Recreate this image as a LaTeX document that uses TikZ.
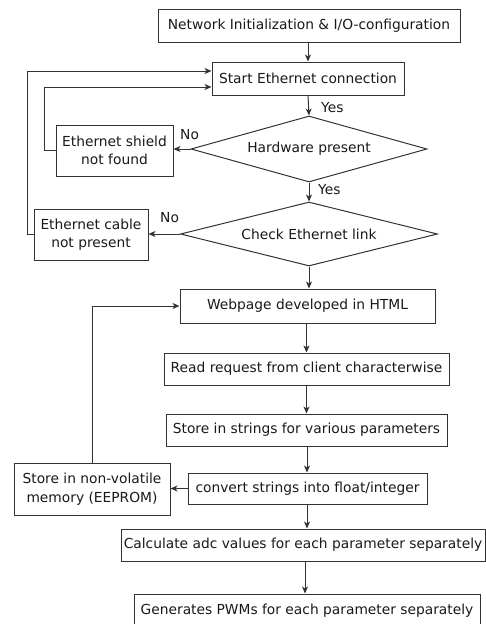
\documentclass[tikz,border=0pt]{standalone}
\usepackage{fontspec}
\setmainfont{DejaVu Sans}
\usetikzlibrary{shapes.geometric,arrows.meta,calc}
\begin{document}
\begin{tikzpicture}[x=1pt,y=-1pt,
  every node/.style={font=\fontsize{13.8}{18.5}\selectfont, text=black!90},
  box/.style={draw=black!80, line width=1pt, inner sep=0pt, align=center},
  dec/.style={draw=black!80, line width=1pt, inner sep=0pt, diamond, aspect=3.6, align=center},
  arr/.style={draw=black!80, line width=1pt, -{Stealth[length=7pt,width=6pt,inset=2pt]}},
  lbl/.style={inner sep=0pt, anchor=west}
]
\useasboundingbox (0,0) rectangle (486,624);
\clip (0,0) rectangle (486,624);
\node[box, minimum width=302pt, minimum height=33pt] (b1) at (309,25.5) {Network Initialization \& I/O-configuration};
\node[box, minimum width=192pt, minimum height=33pt] (b2) at (308,78.5) {Start Ethernet connection};
\node[dec, minimum width=236pt, minimum height=66pt] (d1) at (309,149) {Hardware present};
\node[box, minimum width=117pt, minimum height=51pt] (shield) at (114.5,150.5) {Ethernet shield\\not found};
\node[dec, minimum width=257pt, minimum height=64pt] (d2) at (309,234) {Check Ethernet link};
\node[box, minimum width=114pt, minimum height=51pt] (cable) at (91,234.5) {Ethernet cable\\not present};
\node[box, minimum width=255pt, minimum height=34pt] (web) at (307.5,306) {Webpage developed in HTML};
\node[box, minimum width=285pt, minimum height=32pt] (read) at (306.5,369) {Read request from client characterwise};
\node[box, minimum width=281pt, minimum height=32pt] (str) at (306.5,430) {Store in strings for various parameters};
\node[box, minimum width=156pt, minimum height=52pt] (eep) at (92,489) {Store in non-volatile\\memory (EEPROM)};
\node[box, minimum width=239pt, minimum height=31pt] (conv) at (307.5,488.5) {convert strings into float/integer};
\node[box, minimum width=364pt, minimum height=32pt] (calc) at (303,545) {Calculate adc values for each parameter separately};
\node[box, minimum width=346pt, minimum height=34pt] (gen) at (307,611) {Generates PWMs for each parameter separately};

\node[lbl] (y1) at (321,108) {Yes};
\node[lbl] (y2) at (318,189.5) {Yes};
\node[lbl] (n1) at (180,135) {No};
\node[lbl] (n2) at (160,218) {No};

\coordinate (c1) at (44,150);
\coordinate (c2) at (27,234);
\coordinate (c3) at (92,306);
\coordinate (x1) at (307,0);
\coordinate (x2) at (305,0);

\draw[arr] (b1.south -| b2.north) -- (b2.north);
\draw[arr] (b2.south) -- (d1.north);
\draw[arr] (d1.south) -- (d2.north);
\draw[arr] (d2.south) -- (d2.south |- web.north);
\draw[arr] (web.south -| read.north) -- (read.north);
\draw[arr] (read.south) -- (str.north);
\draw[arr] (str.south -| x1) -- (conv.north -| x1);
\draw[arr] (conv.south -| x1) -- (calc.north -| x1);
\draw[arr] (calc.south -| x2) -- (gen.north -| x2);
\draw[arr] (d1.west) -- (shield.east |- d1.west);
\draw[arr] (d2.west) -- (cable.east |- d2.west);
\draw[arr] (conv.west) -- (eep.east |- conv.west);
\draw[arr] (shield.west |- c1) -- (c1) |- ($(b2.west)+(0,8.5)$);
\draw[arr] (cable.west |- c2) -- (c2) |- ($(b2.west)+(0,-7.5)$);
\draw[arr] (eep.north) -- (c3) -- (web.west |- c3);
\end{tikzpicture}
\end{document}
